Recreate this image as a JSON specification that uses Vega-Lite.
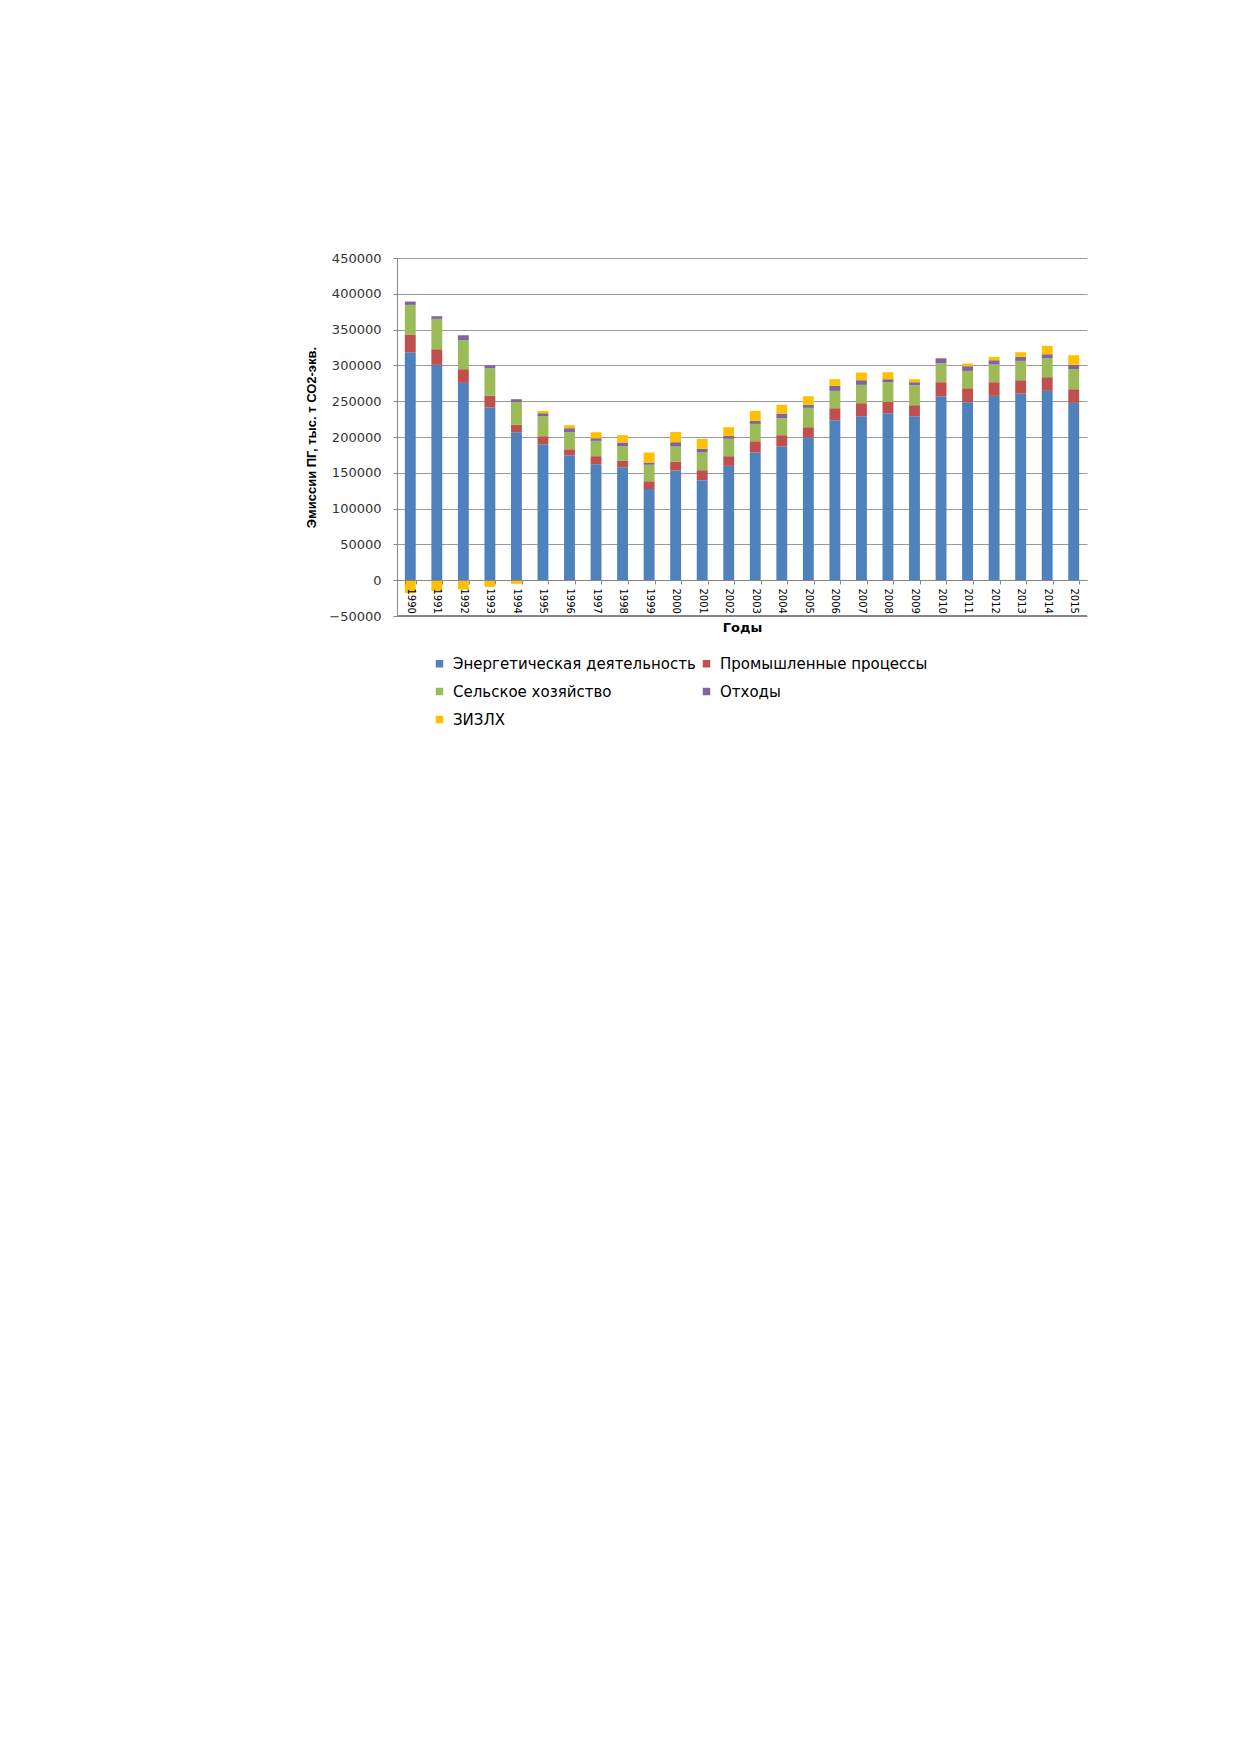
{
  "$schema": "https://vega.github.io/schema/vega-lite/v6.json",
  "width": 690,
  "height": 358,
  "autosize": {"type": "none"},
  "padding": {"left": 397, "top": 258, "right": 152, "bottom": 1136},
  "background": "white",
  "config": {"view": {"stroke": null}, "font": "DejaVu Sans"},
  "data": {"values": [
    {"year":"1990","cat":"Энергетическая деятельность","v":318400},{"year":"1990","cat":"Промышленные процессы","v":24200},{"year":"1990","cat":"Сельское хозяйство","v":41900},{"year":"1990","cat":"Отходы","v":4700},{"year":"1990","cat":"ЗИЗЛХ","v":-18000},
    {"year":"1991","cat":"Энергетическая деятельность","v":300700},{"year":"1991","cat":"Промышленные процессы","v":21900},{"year":"1991","cat":"Сельское хозяйство","v":42400},{"year":"1991","cat":"Отходы","v":3700},{"year":"1991","cat":"ЗИЗЛХ","v":-15000},
    {"year":"1992","cat":"Энергетическая деятельность","v":275600},{"year":"1992","cat":"Промышленные процессы","v":19100},{"year":"1992","cat":"Сельское хозяйство","v":40500},{"year":"1992","cat":"Отходы","v":6900},{"year":"1992","cat":"ЗИЗЛХ","v":-13000},
    {"year":"1993","cat":"Энергетическая деятельность","v":241600},{"year":"1993","cat":"Промышленные процессы","v":15800},{"year":"1993","cat":"Сельское хозяйство","v":38700},{"year":"1993","cat":"Отходы","v":4100},{"year":"1993","cat":"ЗИЗЛХ","v":-9300},
    {"year":"1994","cat":"Энергетическая деятельность","v":206700},{"year":"1994","cat":"Промышленные процессы","v":10200},{"year":"1994","cat":"Сельское хозяйство","v":32100},{"year":"1994","cat":"Отходы","v":3800},{"year":"1994","cat":"ЗИЗЛХ","v":-5100},
    {"year":"1995","cat":"Энергетическая деятельность","v":189900},{"year":"1995","cat":"Промышленные процессы","v":11200},{"year":"1995","cat":"Сельское хозяйство","v":27900},{"year":"1995","cat":"Отходы","v":4200},{"year":"1995","cat":"ЗИЗЛХ","v":3300},
    {"year":"1996","cat":"Энергетическая деятельность","v":174600},{"year":"1996","cat":"Промышленные процессы","v":8300},{"year":"1996","cat":"Сельское хозяйство","v":23800},{"year":"1996","cat":"Отходы","v":5600},{"year":"1996","cat":"ЗИЗЛХ","v":4200},
    {"year":"1997","cat":"Энергетическая деятельность","v":162000},{"year":"1997","cat":"Промышленные процессы","v":11200},{"year":"1997","cat":"Сельское хозяйство","v":21400},{"year":"1997","cat":"Отходы","v":3700},{"year":"1997","cat":"ЗИЗЛХ","v":8400},
    {"year":"1998","cat":"Энергетическая деятельность","v":157800},{"year":"1998","cat":"Промышленные процессы","v":9300},{"year":"1998","cat":"Сельское хозяйство","v":20000},{"year":"1998","cat":"Отходы","v":5200},{"year":"1998","cat":"ЗИЗЛХ","v":10200},
    {"year":"1999","cat":"Энергетическая деятельность","v":127500},{"year":"1999","cat":"Промышленные процессы","v":10800},{"year":"1999","cat":"Сельское хозяйство","v":22800},{"year":"1999","cat":"Отходы","v":3200},{"year":"1999","cat":"ЗИЗЛХ","v":14000},
    {"year":"2000","cat":"Энергетическая деятельность","v":153200},{"year":"2000","cat":"Промышленные процессы","v":12500},{"year":"2000","cat":"Сельское хозяйство","v":21000},{"year":"2000","cat":"Отходы","v":6000},{"year":"2000","cat":"ЗИЗЛХ","v":14400},
    {"year":"2001","cat":"Энергетическая деятельность","v":139700},{"year":"2001","cat":"Промышленные процессы","v":13900},{"year":"2001","cat":"Сельское хозяйство","v":24700},{"year":"2001","cat":"Отходы","v":5100},{"year":"2001","cat":"ЗИЗЛХ","v":14000},
    {"year":"2002","cat":"Энергетическая деятельность","v":159700},{"year":"2002","cat":"Промышленные процессы","v":13500},{"year":"2002","cat":"Сельское хозяйство","v":24200},{"year":"2002","cat":"Отходы","v":4200},{"year":"2002","cat":"ЗИЗЛХ","v":12100},
    {"year":"2003","cat":"Энергетическая деятельность","v":178300},{"year":"2003","cat":"Промышленные процессы","v":15800},{"year":"2003","cat":"Сельское хозяйство","v":24200},{"year":"2003","cat":"Отходы","v":4200},{"year":"2003","cat":"ЗИЗЛХ","v":14000},
    {"year":"2004","cat":"Энергетическая деятельность","v":186700},{"year":"2004","cat":"Промышленные процессы","v":15800},{"year":"2004","cat":"Сельское хозяйство","v":23700},{"year":"2004","cat":"Отходы","v":6600},{"year":"2004","cat":"ЗИЗЛХ","v":12100},
    {"year":"2005","cat":"Энергетическая деятельность","v":199200},{"year":"2005","cat":"Промышленные процессы","v":14500},{"year":"2005","cat":"Сельское хозяйство","v":27000},{"year":"2005","cat":"Отходы","v":4200},{"year":"2005","cat":"ЗИЗЛХ","v":12100},
    {"year":"2006","cat":"Энергетическая деятельность","v":223400},{"year":"2006","cat":"Промышленные процессы","v":16800},{"year":"2006","cat":"Сельское хозяйство","v":24200},{"year":"2006","cat":"Отходы","v":7000},{"year":"2006","cat":"ЗИЗЛХ","v":9300},
    {"year":"2007","cat":"Энергетическая деятельность","v":229000},{"year":"2007","cat":"Промышленные процессы","v":18200},{"year":"2007","cat":"Сельское хозяйство","v":25600},{"year":"2007","cat":"Отходы","v":6500},{"year":"2007","cat":"ЗИЗЛХ","v":10700},
    {"year":"2008","cat":"Энергетическая деятельность","v":233200},{"year":"2008","cat":"Промышленные процессы","v":15800},{"year":"2008","cat":"Сельское хозяйство","v":27500},{"year":"2008","cat":"Отходы","v":4200},{"year":"2008","cat":"ЗИЗЛХ","v":9800},
    {"year":"2009","cat":"Энергетическая деятельность","v":229000},{"year":"2009","cat":"Промышленные процессы","v":15400},{"year":"2009","cat":"Сельское хозяйство","v":27900},{"year":"2009","cat":"Отходы","v":4200},{"year":"2009","cat":"ЗИЗЛХ","v":4200},
    {"year":"2010","cat":"Энергетическая деятельность","v":257000},{"year":"2010","cat":"Промышленные процессы","v":19500},{"year":"2010","cat":"Сельское хозяйство","v":26500},{"year":"2010","cat":"Отходы","v":7000},{"year":"2010","cat":"ЗИЗЛХ","v":500},
    {"year":"2011","cat":"Энергетическая деятельность","v":248400},{"year":"2011","cat":"Промышленные процессы","v":19700},{"year":"2011","cat":"Сельское хозяйство","v":24200},{"year":"2011","cat":"Отходы","v":6600},{"year":"2011","cat":"ЗИЗЛХ","v":3700},
    {"year":"2012","cat":"Энергетическая деятельность","v":257400},{"year":"2012","cat":"Промышленные процессы","v":19100},{"year":"2012","cat":"Сельское хозяйство","v":24700},{"year":"2012","cat":"Отходы","v":6000},{"year":"2012","cat":"ЗИЗЛХ","v":4700},
    {"year":"2013","cat":"Энергетическая деятельность","v":260700},{"year":"2013","cat":"Промышленные процессы","v":18600},{"year":"2013","cat":"Сельское хозяйство","v":27000},{"year":"2013","cat":"Отходы","v":5600},{"year":"2013","cat":"ЗИЗЛХ","v":6500},
    {"year":"2014","cat":"Энергетическая деятельность","v":264400},{"year":"2014","cat":"Промышленные процессы","v":19100},{"year":"2014","cat":"Сельское хозяйство","v":26500},{"year":"2014","cat":"Отходы","v":5600},{"year":"2014","cat":"ЗИЗЛХ","v":11700},
    {"year":"2015","cat":"Энергетическая деятельность","v":247600},{"year":"2015","cat":"Промышленные процессы","v":19100},{"year":"2015","cat":"Сельское хозяйство","v":28000},{"year":"2015","cat":"Отходы","v":6000},{"year":"2015","cat":"ЗИЗЛХ","v":13500}
  ]},
  "layer": [
    {
      "transform": [
        {"lookup": "cat", "from": {"data": {"values": [
          {"cat": "Энергетическая деятельность", "k": 1},
          {"cat": "Промышленные процессы", "k": 2},
          {"cat": "Сельское хозяйство", "k": 3},
          {"cat": "Отходы", "k": 4},
          {"cat": "ЗИЗЛХ", "k": 5}
        ]}, "key": "cat", "fields": ["k"]}}
      ],
      "mark": {"type": "bar"},
      "encoding": {
        "x": {
          "field": "year", "type": "ordinal",
          "scale": {"paddingInner": 0.59, "paddingOuter": 0.295},
          "axis": {
            "title": "Годы", "titleFont": "DejaVu Sans", "titleFontSize": 13, "titleFontWeight": "bold", "titleColor": "#000", "titlePadding": 8,
            "offset": -36, "labelAngle": 90, "labelFontSize": 10, "labelColor": "#000", "labelPadding": 4, "labelOverlap": false,
            "tickSize": 4, "tickColor": "#888", "domainColor": "#888", "tickBand": "extent", "grid": false, "zindex": 1
          }
        },
        "y": {
          "field": "v", "type": "quantitative", "stack": "zero",
          "scale": {"domain": [-50000, 450000], "nice": false, "zero": false},
          "axis": {
            "title": "Эмиссии ПГ, тыс. т СО2-экв.", "titleFont": "Liberation Sans", "titleFontSize": 13, "titleFontWeight": "bold", "titleColor": "#000", "titlePadding": 10,
            "values": [-50000, 0, 50000, 100000, 150000, 200000, 250000, 300000, 350000, 400000, 450000],
            "tickCount": 11,
            "format": "d", "labelFontSize": 13, "labelColor": "#333", "labelPadding": 12, "labelOverlap": false,
            "tickSize": 4, "tickColor": "#888", "domainColor": "#888", "gridColor": "#9a9a9a"
          }
        },
        "order": {"field": "k", "type": "quantitative"},
        "color": {
          "field": "cat", "type": "nominal",
          "sort": ["Энергетическая деятельность", "Промышленные процессы", "Сельское хозяйство", "Отходы", "ЗИЗЛХ"],
          "scale": {
            "domain": ["Энергетическая деятельность", "Промышленные процессы", "Сельское хозяйство", "Отходы", "ЗИЗЛХ"],
            "range": ["#4F81BD", "#C0504D", "#9BBB59", "#8064A2", "#FFC000"]
          },
          "legend": {
            "orient": "none", "legendX": 35, "legendY": 398, "direction": "horizontal", "columns": 2, "title": null,
            "symbolType": "square", "symbolSize": 56, "symbolStrokeWidth": 0, "labelFontSize": 15, "labelColor": "#000", "labelLimit": 500,
            "rowPadding": 12, "columnPadding": 3, "labelOffset": 6
          }
        }
      }
    },
    {
      "data": {"values": [{}]},
      "mark": {"type": "rule", "color": "#858585", "strokeWidth": 2},
      "encoding": {"y": {"datum": -50000}}
    }
  ]
}
